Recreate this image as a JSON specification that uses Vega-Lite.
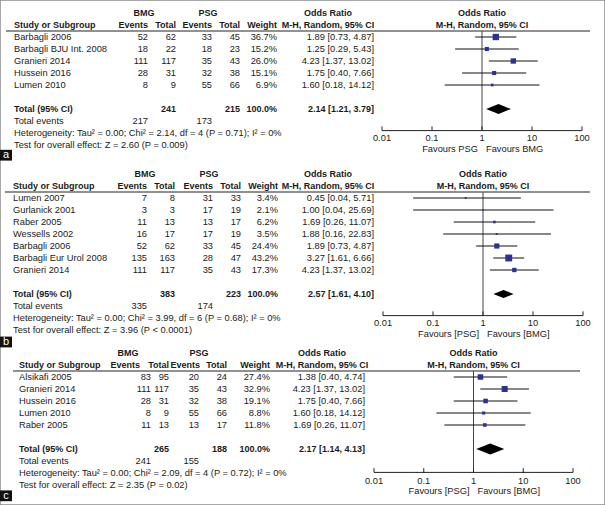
{
"$schema": "https://vega.github.io/schema/vega-lite/v6.json",
"width": 605, "height": 505,
"autosize": {"type": "fit", "contains": "padding"},
"padding": 0,
"background": "white",
"config": {"view": {"stroke": "#8c8c8c", "strokeWidth": 1.5}, "text": {"font": "Liberation Sans", "fontSize": 9.3, "color": "#1a1a1a", "baseline": "middle"}},
"datasets": {
"rows": [
{"panel":"a","kind":"study","i":1,"study":"Barbagli 2006","be":52,"bt":62,"pe":33,"pt":45,"w":0.367,"or":1.89,"lo":0.73,"hi":4.87},
{"panel":"a","kind":"study","i":2,"study":"Barbagli BJU Int. 2008","be":18,"bt":22,"pe":18,"pt":23,"w":0.152,"or":1.25,"lo":0.29,"hi":5.43},
{"panel":"a","kind":"study","i":3,"study":"Granieri 2014","be":111,"bt":117,"pe":35,"pt":43,"w":0.26,"or":4.23,"lo":1.37,"hi":13.02},
{"panel":"a","kind":"study","i":4,"study":"Hussein 2016","be":28,"bt":31,"pe":32,"pt":38,"w":0.151,"or":1.75,"lo":0.4,"hi":7.66},
{"panel":"a","kind":"study","i":5,"study":"Lumen 2010","be":8,"bt":9,"pe":55,"pt":66,"w":0.069,"or":1.6,"lo":0.18,"hi":14.12},
{"panel":"a","kind":"total","be":217,"bt":241,"pe":173,"pt":215,"w":1,"or":2.14,"lo":1.21,"hi":3.79,"het":"Heterogeneity: Tau² = 0.00; Chi² = 2.14, df = 4 (P = 0.71); I² = 0%","test":"Test for overall effect: Z = 2.60 (P = 0.009)"},
{"panel":"b","kind":"study","i":1,"study":"Lumen 2007","be":7,"bt":8,"pe":31,"pt":33,"w":0.034,"or":0.45,"lo":0.04,"hi":5.71},
{"panel":"b","kind":"study","i":2,"study":"Gurlanick 2001","be":3,"bt":3,"pe":17,"pt":19,"w":0.021,"or":1.0,"lo":0.04,"hi":25.69},
{"panel":"b","kind":"study","i":3,"study":"Raber 2005","be":11,"bt":13,"pe":13,"pt":17,"w":0.062,"or":1.69,"lo":0.26,"hi":11.07},
{"panel":"b","kind":"study","i":4,"study":"Wessells 2002","be":16,"bt":17,"pe":17,"pt":19,"w":0.035,"or":1.88,"lo":0.16,"hi":22.83},
{"panel":"b","kind":"study","i":5,"study":"Barbagli 2006","be":52,"bt":62,"pe":33,"pt":45,"w":0.244,"or":1.89,"lo":0.73,"hi":4.87},
{"panel":"b","kind":"study","i":6,"study":"Barbagli Eur Urol 2008","be":135,"bt":163,"pe":28,"pt":47,"w":0.432,"or":3.27,"lo":1.61,"hi":6.66},
{"panel":"b","kind":"study","i":7,"study":"Granieri 2014","be":111,"bt":117,"pe":35,"pt":43,"w":0.173,"or":4.23,"lo":1.37,"hi":13.02},
{"panel":"b","kind":"total","be":335,"bt":383,"pe":174,"pt":223,"w":1,"or":2.57,"lo":1.61,"hi":4.1,"het":"Heterogeneity: Tau² = 0.00; Chi² = 3.99, df = 6 (P = 0.68); I² = 0%","test":"Test for overall effect: Z = 3.96 (P < 0.0001)"},
{"panel":"c","kind":"study","i":1,"study":"Alsikafi 2005","be":83,"bt":95,"pe":20,"pt":24,"w":0.274,"or":1.38,"lo":0.4,"hi":4.74},
{"panel":"c","kind":"study","i":2,"study":"Granieri 2014","be":111,"bt":117,"pe":35,"pt":43,"w":0.329,"or":4.23,"lo":1.37,"hi":13.02},
{"panel":"c","kind":"study","i":3,"study":"Hussein 2016","be":28,"bt":31,"pe":32,"pt":38,"w":0.191,"or":1.75,"lo":0.4,"hi":7.66},
{"panel":"c","kind":"study","i":4,"study":"Lumen 2010","be":8,"bt":9,"pe":55,"pt":66,"w":0.088,"or":1.6,"lo":0.18,"hi":14.12},
{"panel":"c","kind":"study","i":5,"study":"Raber 2005","be":11,"bt":13,"pe":13,"pt":17,"w":0.118,"or":1.69,"lo":0.26,"hi":11.07},
{"panel":"c","kind":"total","be":241,"bt":265,"pe":155,"pt":188,"w":1,"or":2.17,"lo":1.14,"hi":4.13,"het":"Heterogeneity: Tau² = 0.00; Chi² = 2.09, df = 4 (P = 0.72); I² = 0%","test":"Test for overall effect: Z = 2.35 (P = 0.02)"}
],
"ticks": [{"t":0.01,"l":"0.01"},{"t":0.1,"l":"0.1"},{"t":1,"l":"1"},{"t":10,"l":"10"},{"t":100,"l":"100"}]
},
"data": {"name": "rows"},
"resolve": {"scale": {"x": "independent", "y": "independent", "size": "independent"}},
"layer": [
{
"transform": [{"filter": "datum.panel === 'a'"}, {"calculate": "format(datum.or,'.2f')+' ['+format(datum.lo,'.2f')+', '+format(datum.hi,'.2f')+']'", "as": "ci"}, {"calculate": "log(datum.hi/datum.lo)/LN10", "as": "lw"}],
"resolve": {"scale": {"size": "independent"}},
"layer": [
{"data":{"values":[{"panel":"a"}]},"mark":{"type":"text","text":"BMG","fontWeight":"bold","fontSize":9},"encoding":{"x":{"value":144},"y":{"datum":-1,"type":"quantitative","scale":{"domain":[-1,11],"range":[13,157],"nice":false,"zero":false},"axis":null}}},
{"data":{"values":[{"panel":"a"}]},"mark":{"type":"text","text":"PSG","fontWeight":"bold","fontSize":9},"encoding":{"x":{"value":208},"y":{"datum":-1,"type":"quantitative","scale":{"domain":[-1,11],"range":[13,157],"nice":false,"zero":false},"axis":null}}},
{"data":{"values":[{"panel":"a"}]},"mark":{"type":"text","text":"Odds Ratio","fontWeight":"bold","fontSize":9},"encoding":{"x":{"value":328},"y":{"datum":-1,"type":"quantitative","scale":{"domain":[-1,11],"range":[13,157],"nice":false,"zero":false},"axis":null}}},
{"data":{"values":[{"panel":"a"}]},"mark":{"type":"text","text":"M-H, Random, 95% CI","fontWeight":"bold","fontSize":9},"encoding":{"x":{"value":328},"y":{"datum":0,"type":"quantitative","scale":{"domain":[-1,11],"range":[13,157],"nice":false,"zero":false},"axis":null}}},
{"data":{"values":[{"panel":"a"}]},"mark":{"type":"text","text":"Odds Ratio","fontWeight":"bold","fontSize":9},"encoding":{"x":{"datum":1,"type":"quantitative","scale":{"type":"log","domain":[0.01,100],"range":[382,582],"nice":false},"axis":null},"y":{"datum":-1,"type":"quantitative","scale":{"domain":[-1,11],"range":[13,157],"nice":false,"zero":false},"axis":null}}},
{"data":{"values":[{"panel":"a"}]},"mark":{"type":"text","text":"M-H, Random, 95% CI","fontWeight":"bold","fontSize":9},"encoding":{"x":{"datum":1,"type":"quantitative","scale":{"type":"log","domain":[0.01,100],"range":[382,582],"nice":false},"axis":null},"y":{"datum":0,"type":"quantitative","scale":{"domain":[-1,11],"range":[13,157],"nice":false,"zero":false},"axis":null}}},
{"data":{"values":[{"panel":"a"}]},"mark":{"type":"text","text":"Study or Subgroup","align":"left","fontWeight":"bold","fontSize":9},"encoding":{"x":{"value":14},"y":{"datum":0,"type":"quantitative","scale":{"domain":[-1,11],"range":[13,157],"nice":false,"zero":false},"axis":null}}},
{"data":{"values":[{"panel":"a"}]},"mark":{"type":"text","text":"Events","align":"right","fontWeight":"bold","fontSize":9},"encoding":{"x":{"value":148},"y":{"datum":0,"type":"quantitative","scale":{"domain":[-1,11],"range":[13,157],"nice":false,"zero":false},"axis":null}}},
{"data":{"values":[{"panel":"a"}]},"mark":{"type":"text","text":"Total","align":"right","fontWeight":"bold","fontSize":9},"encoding":{"x":{"value":176},"y":{"datum":0,"type":"quantitative","scale":{"domain":[-1,11],"range":[13,157],"nice":false,"zero":false},"axis":null}}},
{"data":{"values":[{"panel":"a"}]},"mark":{"type":"text","text":"Events","align":"right","fontWeight":"bold","fontSize":9},"encoding":{"x":{"value":212},"y":{"datum":0,"type":"quantitative","scale":{"domain":[-1,11],"range":[13,157],"nice":false,"zero":false},"axis":null}}},
{"data":{"values":[{"panel":"a"}]},"mark":{"type":"text","text":"Total","align":"right","fontWeight":"bold","fontSize":9},"encoding":{"x":{"value":240},"y":{"datum":0,"type":"quantitative","scale":{"domain":[-1,11],"range":[13,157],"nice":false,"zero":false},"axis":null}}},
{"data":{"values":[{"panel":"a"}]},"mark":{"type":"text","text":"Weight","align":"right","fontWeight":"bold","fontSize":9},"encoding":{"x":{"value":277},"y":{"datum":0,"type":"quantitative","scale":{"domain":[-1,11],"range":[13,157],"nice":false,"zero":false},"axis":null}}},
{"data":{"values":[{"panel":"a"}]},"mark":{"type":"rule","color":"#222","strokeWidth":1},"encoding":{"x":{"value":6},"x2":{"value":590},"y":{"datum":0.5,"type":"quantitative","scale":{"domain":[-1,11],"range":[13,157],"nice":false,"zero":false},"axis":null}}},
{"data":{"values":[{"panel":"a"}]},"mark":{"type":"rule","color":"#444","strokeWidth":1},"encoding":{"x":{"datum":1,"type":"quantitative","scale":{"type":"log","domain":[0.01,100],"range":[382,582],"nice":false},"axis":null},"y":{"datum":0.5,"type":"quantitative","scale":{"domain":[-1,11],"range":[13,157],"nice":false,"zero":false},"axis":null},"y2":{"datum":8.8}}},
{"data":{"values":[{"panel":"a"}]},"mark":{"type":"rule","color":"#222","strokeWidth":1},"encoding":{"x":{"datum":0.01,"type":"quantitative","scale":{"type":"log","domain":[0.01,100],"range":[382,582],"nice":false},"axis":null},"x2":{"datum":100},"y":{"datum":8.8,"type":"quantitative","scale":{"domain":[-1,11],"range":[13,157],"nice":false,"zero":false},"axis":null}}},
{"data":{"name":"ticks"},"mark":{"type":"rule","color":"#222","strokeWidth":1},"encoding":{"x":{"field":"t","type":"quantitative","scale":{"type":"log","domain":[0.01,100],"range":[382,582],"nice":false},"axis":null},"y":{"datum":8.45,"type":"quantitative","scale":{"domain":[-1,11],"range":[13,157],"nice":false,"zero":false},"axis":null},"y2":{"datum":8.8}}},
{"data":{"name":"ticks"},"mark":{"type":"text"},"encoding":{"x":{"field":"t","type":"quantitative","scale":{"type":"log","domain":[0.01,100],"range":[382,582],"nice":false},"axis":null},"y":{"datum":9.45,"type":"quantitative","scale":{"domain":[-1,11],"range":[13,157],"nice":false,"zero":false},"axis":null},"text":{"field":"l","type":"nominal"}}},
{"data":{"values":[{"panel":"a"}]},"mark":{"type":"text","text":"Favours PSG","align":"right","dx":-4},"encoding":{"x":{"datum":1,"type":"quantitative","scale":{"type":"log","domain":[0.01,100],"range":[382,582],"nice":false},"axis":null},"y":{"datum":10.35,"type":"quantitative","scale":{"domain":[-1,11],"range":[13,157],"nice":false,"zero":false},"axis":null}}},
{"data":{"values":[{"panel":"a"}]},"mark":{"type":"text","text":"Favours BMG","align":"left","dx":4},"encoding":{"x":{"datum":1,"type":"quantitative","scale":{"type":"log","domain":[0.01,100],"range":[382,582],"nice":false},"axis":null},"y":{"datum":10.35,"type":"quantitative","scale":{"domain":[-1,11],"range":[13,157],"nice":false,"zero":false},"axis":null}}},
{"data":{"values":[{"panel":"a"}]},"mark":{"type":"rect","color":"#111"},"encoding":{"x":{"value":0},"x2":{"value":12},"y":{"datum":10.4,"type":"quantitative","scale":{"domain":[-1,11],"range":[13,157],"nice":false,"zero":false},"axis":null},"y2":{"datum":11.3}}},
{"data":{"values":[{"panel":"a"}]},"mark":{"type":"text","text":"a","color":"white","fontSize":11},"encoding":{"x":{"value":6},"y":{"datum":10.85,"type":"quantitative","scale":{"domain":[-1,11],"range":[13,157],"nice":false,"zero":false},"axis":null}}},
{"transform":[{"filter":"datum.kind === 'study'"}],"layer":[
{"mark":{"type":"text","align":"left"},"encoding":{"x":{"value":14},"y":{"field":"i","type":"quantitative","scale":{"domain":[-1,11],"range":[13,157],"nice":false,"zero":false},"axis":null},"text":{"field":"study","type":"nominal"}}},
{"mark":{"type":"text","align":"right"},"encoding":{"x":{"value":148},"y":{"field":"i","type":"quantitative","scale":{"domain":[-1,11],"range":[13,157],"nice":false,"zero":false},"axis":null},"text":{"field":"be","type":"nominal"}}},
{"mark":{"type":"text","align":"right"},"encoding":{"x":{"value":176},"y":{"field":"i","type":"quantitative","scale":{"domain":[-1,11],"range":[13,157],"nice":false,"zero":false},"axis":null},"text":{"field":"bt","type":"nominal"}}},
{"mark":{"type":"text","align":"right"},"encoding":{"x":{"value":212},"y":{"field":"i","type":"quantitative","scale":{"domain":[-1,11],"range":[13,157],"nice":false,"zero":false},"axis":null},"text":{"field":"pe","type":"nominal"}}},
{"mark":{"type":"text","align":"right"},"encoding":{"x":{"value":240},"y":{"field":"i","type":"quantitative","scale":{"domain":[-1,11],"range":[13,157],"nice":false,"zero":false},"axis":null},"text":{"field":"pt","type":"nominal"}}},
{"mark":{"type":"text","align":"right"},"encoding":{"x":{"value":277},"y":{"field":"i","type":"quantitative","scale":{"domain":[-1,11],"range":[13,157],"nice":false,"zero":false},"axis":null},"text":{"field":"w","type":"quantitative","format":".1%"}}},
{"mark":{"type":"text","align":"right"},"encoding":{"x":{"value":374},"y":{"field":"i","type":"quantitative","scale":{"domain":[-1,11],"range":[13,157],"nice":false,"zero":false},"axis":null},"text":{"field":"ci","type":"nominal"}}},
{"mark":{"type":"rule","color":"#111","strokeWidth":1},"encoding":{"x":{"field":"lo","type":"quantitative","scale":{"type":"log","domain":[0.01,100],"range":[382,582],"nice":false},"axis":null},"x2":{"field":"hi"},"y":{"field":"i","type":"quantitative","scale":{"domain":[-1,11],"range":[13,157],"nice":false,"zero":false},"axis":null}}},
{"mark":{"type":"point","shape":"square","filled":true,"color":"#2e3192","opacity":1},"encoding":{"x":{"field":"or","type":"quantitative","scale":{"type":"log","domain":[0.01,100],"range":[382,582],"nice":false},"axis":null},"y":{"field":"i","type":"quantitative","scale":{"domain":[-1,11],"range":[13,157],"nice":false,"zero":false},"axis":null},"size":{"field":"w","type":"quantitative","scale":{"domain":[0,0.5],"range":[0,55]},"legend":null}}}
]},
{"transform":[{"filter":"datum.kind === 'total'"}],"layer":[
{"mark":{"type":"text","align":"left","text":"Total (95% CI)","fontWeight":"bold","fontSize":9},"encoding":{"x":{"value":14},"y":{"datum":7,"type":"quantitative","scale":{"domain":[-1,11],"range":[13,157],"nice":false,"zero":false},"axis":null}}},
{"mark":{"type":"text","align":"right","fontWeight":"bold","fontSize":9},"encoding":{"x":{"value":176},"y":{"datum":7,"type":"quantitative","scale":{"domain":[-1,11],"range":[13,157],"nice":false,"zero":false},"axis":null},"text":{"field":"bt","type":"nominal"}}},
{"mark":{"type":"text","align":"right","fontWeight":"bold","fontSize":9},"encoding":{"x":{"value":240},"y":{"datum":7,"type":"quantitative","scale":{"domain":[-1,11],"range":[13,157],"nice":false,"zero":false},"axis":null},"text":{"field":"pt","type":"nominal"}}},
{"mark":{"type":"text","align":"right","fontWeight":"bold","fontSize":9},"encoding":{"x":{"value":277},"y":{"datum":7,"type":"quantitative","scale":{"domain":[-1,11],"range":[13,157],"nice":false,"zero":false},"axis":null},"text":{"field":"w","type":"quantitative","format":".1%"}}},
{"mark":{"type":"text","align":"right","fontWeight":"bold","fontSize":9},"encoding":{"x":{"value":374},"y":{"datum":7,"type":"quantitative","scale":{"domain":[-1,11],"range":[13,157],"nice":false,"zero":false},"axis":null},"text":{"field":"ci","type":"nominal"}}},
{"mark":{"type":"text","align":"left","text":"Total events"},"encoding":{"x":{"value":14},"y":{"datum":8,"type":"quantitative","scale":{"domain":[-1,11],"range":[13,157],"nice":false,"zero":false},"axis":null}}},
{"mark":{"type":"text","align":"right"},"encoding":{"x":{"value":148},"y":{"datum":8,"type":"quantitative","scale":{"domain":[-1,11],"range":[13,157],"nice":false,"zero":false},"axis":null},"text":{"field":"be","type":"nominal"}}},
{"mark":{"type":"text","align":"right"},"encoding":{"x":{"value":212},"y":{"datum":8,"type":"quantitative","scale":{"domain":[-1,11],"range":[13,157],"nice":false,"zero":false},"axis":null},"text":{"field":"pe","type":"nominal"}}},
{"mark":{"type":"text","align":"left"},"encoding":{"x":{"value":14},"y":{"datum":9,"type":"quantitative","scale":{"domain":[-1,11],"range":[13,157],"nice":false,"zero":false},"axis":null},"text":{"field":"het","type":"nominal"}}},
{"mark":{"type":"text","align":"left"},"encoding":{"x":{"value":14},"y":{"datum":10,"type":"quantitative","scale":{"domain":[-1,11],"range":[13,157],"nice":false,"zero":false},"axis":null},"text":{"field":"test","type":"nominal"}}},
{"mark":{"type":"point","shape":"M-1,0L0,-0.4L1,0L0,0.4Z","filled":true,"color":"#000","opacity":1},"encoding":{"x":{"field":"or","type":"quantitative","scale":{"type":"log","domain":[0.01,100],"range":[382,582],"nice":false},"axis":null},"y":{"datum":7,"type":"quantitative","scale":{"domain":[-1,11],"range":[13,157],"nice":false,"zero":false},"axis":null},"size":{"field":"lw","type":"quantitative","scale":{"type":"pow","exponent":2,"domain":[0,1],"range":[0,2500]},"legend":null}}}
]}
]
},
{
"transform": [{"filter": "datum.panel === 'b'"}, {"calculate": "format(datum.or,'.2f')+' ['+format(datum.lo,'.2f')+', '+format(datum.hi,'.2f')+']'", "as": "ci"}, {"calculate": "log(datum.hi/datum.lo)/LN10", "as": "lw"}],
"resolve": {"scale": {"size": "independent"}},
"layer": [
{"data":{"values":[{"panel":"b"}]},"mark":{"type":"text","text":"BMG","fontWeight":"bold","fontSize":9},"encoding":{"x":{"value":145},"y":{"datum":-1,"type":"quantitative","scale":{"domain":[-1,13],"range":[174,342],"nice":false,"zero":false},"axis":null}}},
{"data":{"values":[{"panel":"b"}]},"mark":{"type":"text","text":"PSG","fontWeight":"bold","fontSize":9},"encoding":{"x":{"value":209},"y":{"datum":-1,"type":"quantitative","scale":{"domain":[-1,13],"range":[174,342],"nice":false,"zero":false},"axis":null}}},
{"data":{"values":[{"panel":"b"}]},"mark":{"type":"text","text":"Odds Ratio","fontWeight":"bold","fontSize":9},"encoding":{"x":{"value":328},"y":{"datum":-1,"type":"quantitative","scale":{"domain":[-1,13],"range":[174,342],"nice":false,"zero":false},"axis":null}}},
{"data":{"values":[{"panel":"b"}]},"mark":{"type":"text","text":"M-H, Random, 95% CI","fontWeight":"bold","fontSize":9},"encoding":{"x":{"value":328},"y":{"datum":0,"type":"quantitative","scale":{"domain":[-1,13],"range":[174,342],"nice":false,"zero":false},"axis":null}}},
{"data":{"values":[{"panel":"b"}]},"mark":{"type":"text","text":"Odds Ratio","fontWeight":"bold","fontSize":9},"encoding":{"x":{"datum":1,"type":"quantitative","scale":{"type":"log","domain":[0.01,100],"range":[383,583],"nice":false},"axis":null},"y":{"datum":-1,"type":"quantitative","scale":{"domain":[-1,13],"range":[174,342],"nice":false,"zero":false},"axis":null}}},
{"data":{"values":[{"panel":"b"}]},"mark":{"type":"text","text":"M-H, Random, 95% CI","fontWeight":"bold","fontSize":9},"encoding":{"x":{"datum":1,"type":"quantitative","scale":{"type":"log","domain":[0.01,100],"range":[383,583],"nice":false},"axis":null},"y":{"datum":0,"type":"quantitative","scale":{"domain":[-1,13],"range":[174,342],"nice":false,"zero":false},"axis":null}}},
{"data":{"values":[{"panel":"b"}]},"mark":{"type":"text","text":"Study or Subgroup","align":"left","fontWeight":"bold","fontSize":9},"encoding":{"x":{"value":13},"y":{"datum":0,"type":"quantitative","scale":{"domain":[-1,13],"range":[174,342],"nice":false,"zero":false},"axis":null}}},
{"data":{"values":[{"panel":"b"}]},"mark":{"type":"text","text":"Events","align":"right","fontWeight":"bold","fontSize":9},"encoding":{"x":{"value":147},"y":{"datum":0,"type":"quantitative","scale":{"domain":[-1,13],"range":[174,342],"nice":false,"zero":false},"axis":null}}},
{"data":{"values":[{"panel":"b"}]},"mark":{"type":"text","text":"Total","align":"right","fontWeight":"bold","fontSize":9},"encoding":{"x":{"value":175},"y":{"datum":0,"type":"quantitative","scale":{"domain":[-1,13],"range":[174,342],"nice":false,"zero":false},"axis":null}}},
{"data":{"values":[{"panel":"b"}]},"mark":{"type":"text","text":"Events","align":"right","fontWeight":"bold","fontSize":9},"encoding":{"x":{"value":213},"y":{"datum":0,"type":"quantitative","scale":{"domain":[-1,13],"range":[174,342],"nice":false,"zero":false},"axis":null}}},
{"data":{"values":[{"panel":"b"}]},"mark":{"type":"text","text":"Total","align":"right","fontWeight":"bold","fontSize":9},"encoding":{"x":{"value":241},"y":{"datum":0,"type":"quantitative","scale":{"domain":[-1,13],"range":[174,342],"nice":false,"zero":false},"axis":null}}},
{"data":{"values":[{"panel":"b"}]},"mark":{"type":"text","text":"Weight","align":"right","fontWeight":"bold","fontSize":9},"encoding":{"x":{"value":278},"y":{"datum":0,"type":"quantitative","scale":{"domain":[-1,13],"range":[174,342],"nice":false,"zero":false},"axis":null}}},
{"data":{"values":[{"panel":"b"}]},"mark":{"type":"rule","color":"#222","strokeWidth":1},"encoding":{"x":{"value":5},"x2":{"value":590},"y":{"datum":0.5,"type":"quantitative","scale":{"domain":[-1,13],"range":[174,342],"nice":false,"zero":false},"axis":null}}},
{"data":{"values":[{"panel":"b"}]},"mark":{"type":"rule","color":"#444","strokeWidth":1},"encoding":{"x":{"datum":1,"type":"quantitative","scale":{"type":"log","domain":[0.01,100],"range":[383,583],"nice":false},"axis":null},"y":{"datum":0.5,"type":"quantitative","scale":{"domain":[-1,13],"range":[174,342],"nice":false,"zero":false},"axis":null},"y2":{"datum":10.8}}},
{"data":{"values":[{"panel":"b"}]},"mark":{"type":"rule","color":"#222","strokeWidth":1},"encoding":{"x":{"datum":0.01,"type":"quantitative","scale":{"type":"log","domain":[0.01,100],"range":[383,583],"nice":false},"axis":null},"x2":{"datum":100},"y":{"datum":10.8,"type":"quantitative","scale":{"domain":[-1,13],"range":[174,342],"nice":false,"zero":false},"axis":null}}},
{"data":{"name":"ticks"},"mark":{"type":"rule","color":"#222","strokeWidth":1},"encoding":{"x":{"field":"t","type":"quantitative","scale":{"type":"log","domain":[0.01,100],"range":[383,583],"nice":false},"axis":null},"y":{"datum":10.45,"type":"quantitative","scale":{"domain":[-1,13],"range":[174,342],"nice":false,"zero":false},"axis":null},"y2":{"datum":10.8}}},
{"data":{"name":"ticks"},"mark":{"type":"text"},"encoding":{"x":{"field":"t","type":"quantitative","scale":{"type":"log","domain":[0.01,100],"range":[383,583],"nice":false},"axis":null},"y":{"datum":11.45,"type":"quantitative","scale":{"domain":[-1,13],"range":[174,342],"nice":false,"zero":false},"axis":null},"text":{"field":"l","type":"nominal"}}},
{"data":{"values":[{"panel":"b"}]},"mark":{"type":"text","text":"Favours [PSG]","align":"right","dx":-4},"encoding":{"x":{"datum":1,"type":"quantitative","scale":{"type":"log","domain":[0.01,100],"range":[383,583],"nice":false},"axis":null},"y":{"datum":12.35,"type":"quantitative","scale":{"domain":[-1,13],"range":[174,342],"nice":false,"zero":false},"axis":null}}},
{"data":{"values":[{"panel":"b"}]},"mark":{"type":"text","text":"Favours [BMG]","align":"left","dx":4},"encoding":{"x":{"datum":1,"type":"quantitative","scale":{"type":"log","domain":[0.01,100],"range":[383,583],"nice":false},"axis":null},"y":{"datum":12.35,"type":"quantitative","scale":{"domain":[-1,13],"range":[174,342],"nice":false,"zero":false},"axis":null}}},
{"data":{"values":[{"panel":"b"}]},"mark":{"type":"rect","color":"#111"},"encoding":{"x":{"value":0},"x2":{"value":12},"y":{"datum":12.55,"type":"quantitative","scale":{"domain":[-1,13],"range":[174,342],"nice":false,"zero":false},"axis":null},"y2":{"datum":13.45}}},
{"data":{"values":[{"panel":"b"}]},"mark":{"type":"text","text":"b","color":"white","fontSize":11},"encoding":{"x":{"value":6},"y":{"datum":13.0,"type":"quantitative","scale":{"domain":[-1,13],"range":[174,342],"nice":false,"zero":false},"axis":null}}},
{"transform":[{"filter":"datum.kind === 'study'"}],"layer":[
{"mark":{"type":"text","align":"left"},"encoding":{"x":{"value":13},"y":{"field":"i","type":"quantitative","scale":{"domain":[-1,13],"range":[174,342],"nice":false,"zero":false},"axis":null},"text":{"field":"study","type":"nominal"}}},
{"mark":{"type":"text","align":"right"},"encoding":{"x":{"value":147},"y":{"field":"i","type":"quantitative","scale":{"domain":[-1,13],"range":[174,342],"nice":false,"zero":false},"axis":null},"text":{"field":"be","type":"nominal"}}},
{"mark":{"type":"text","align":"right"},"encoding":{"x":{"value":175},"y":{"field":"i","type":"quantitative","scale":{"domain":[-1,13],"range":[174,342],"nice":false,"zero":false},"axis":null},"text":{"field":"bt","type":"nominal"}}},
{"mark":{"type":"text","align":"right"},"encoding":{"x":{"value":213},"y":{"field":"i","type":"quantitative","scale":{"domain":[-1,13],"range":[174,342],"nice":false,"zero":false},"axis":null},"text":{"field":"pe","type":"nominal"}}},
{"mark":{"type":"text","align":"right"},"encoding":{"x":{"value":241},"y":{"field":"i","type":"quantitative","scale":{"domain":[-1,13],"range":[174,342],"nice":false,"zero":false},"axis":null},"text":{"field":"pt","type":"nominal"}}},
{"mark":{"type":"text","align":"right"},"encoding":{"x":{"value":278},"y":{"field":"i","type":"quantitative","scale":{"domain":[-1,13],"range":[174,342],"nice":false,"zero":false},"axis":null},"text":{"field":"w","type":"quantitative","format":".1%"}}},
{"mark":{"type":"text","align":"right"},"encoding":{"x":{"value":374},"y":{"field":"i","type":"quantitative","scale":{"domain":[-1,13],"range":[174,342],"nice":false,"zero":false},"axis":null},"text":{"field":"ci","type":"nominal"}}},
{"mark":{"type":"rule","color":"#111","strokeWidth":1},"encoding":{"x":{"field":"lo","type":"quantitative","scale":{"type":"log","domain":[0.01,100],"range":[383,583],"nice":false},"axis":null},"x2":{"field":"hi"},"y":{"field":"i","type":"quantitative","scale":{"domain":[-1,13],"range":[174,342],"nice":false,"zero":false},"axis":null}}},
{"mark":{"type":"point","shape":"square","filled":true,"color":"#2e3192","opacity":1},"encoding":{"x":{"field":"or","type":"quantitative","scale":{"type":"log","domain":[0.01,100],"range":[383,583],"nice":false},"axis":null},"y":{"field":"i","type":"quantitative","scale":{"domain":[-1,13],"range":[174,342],"nice":false,"zero":false},"axis":null},"size":{"field":"w","type":"quantitative","scale":{"domain":[0,0.5],"range":[0,55]},"legend":null}}}
]},
{"transform":[{"filter":"datum.kind === 'total'"}],"layer":[
{"mark":{"type":"text","align":"left","text":"Total (95% CI)","fontWeight":"bold","fontSize":9},"encoding":{"x":{"value":13},"y":{"datum":9,"type":"quantitative","scale":{"domain":[-1,13],"range":[174,342],"nice":false,"zero":false},"axis":null}}},
{"mark":{"type":"text","align":"right","fontWeight":"bold","fontSize":9},"encoding":{"x":{"value":175},"y":{"datum":9,"type":"quantitative","scale":{"domain":[-1,13],"range":[174,342],"nice":false,"zero":false},"axis":null},"text":{"field":"bt","type":"nominal"}}},
{"mark":{"type":"text","align":"right","fontWeight":"bold","fontSize":9},"encoding":{"x":{"value":241},"y":{"datum":9,"type":"quantitative","scale":{"domain":[-1,13],"range":[174,342],"nice":false,"zero":false},"axis":null},"text":{"field":"pt","type":"nominal"}}},
{"mark":{"type":"text","align":"right","fontWeight":"bold","fontSize":9},"encoding":{"x":{"value":278},"y":{"datum":9,"type":"quantitative","scale":{"domain":[-1,13],"range":[174,342],"nice":false,"zero":false},"axis":null},"text":{"field":"w","type":"quantitative","format":".1%"}}},
{"mark":{"type":"text","align":"right","fontWeight":"bold","fontSize":9},"encoding":{"x":{"value":374},"y":{"datum":9,"type":"quantitative","scale":{"domain":[-1,13],"range":[174,342],"nice":false,"zero":false},"axis":null},"text":{"field":"ci","type":"nominal"}}},
{"mark":{"type":"text","align":"left","text":"Total events"},"encoding":{"x":{"value":13},"y":{"datum":10,"type":"quantitative","scale":{"domain":[-1,13],"range":[174,342],"nice":false,"zero":false},"axis":null}}},
{"mark":{"type":"text","align":"right"},"encoding":{"x":{"value":147},"y":{"datum":10,"type":"quantitative","scale":{"domain":[-1,13],"range":[174,342],"nice":false,"zero":false},"axis":null},"text":{"field":"be","type":"nominal"}}},
{"mark":{"type":"text","align":"right"},"encoding":{"x":{"value":213},"y":{"datum":10,"type":"quantitative","scale":{"domain":[-1,13],"range":[174,342],"nice":false,"zero":false},"axis":null},"text":{"field":"pe","type":"nominal"}}},
{"mark":{"type":"text","align":"left"},"encoding":{"x":{"value":13},"y":{"datum":11,"type":"quantitative","scale":{"domain":[-1,13],"range":[174,342],"nice":false,"zero":false},"axis":null},"text":{"field":"het","type":"nominal"}}},
{"mark":{"type":"text","align":"left"},"encoding":{"x":{"value":13},"y":{"datum":12,"type":"quantitative","scale":{"domain":[-1,13],"range":[174,342],"nice":false,"zero":false},"axis":null},"text":{"field":"test","type":"nominal"}}},
{"mark":{"type":"point","shape":"M-1,0L0,-0.4L1,0L0,0.4Z","filled":true,"color":"#000","opacity":1},"encoding":{"x":{"field":"or","type":"quantitative","scale":{"type":"log","domain":[0.01,100],"range":[383,583],"nice":false},"axis":null},"y":{"datum":9,"type":"quantitative","scale":{"domain":[-1,13],"range":[174,342],"nice":false,"zero":false},"axis":null},"size":{"field":"lw","type":"quantitative","scale":{"type":"pow","exponent":2,"domain":[0,1],"range":[0,2500]},"legend":null}}}
]}
]
},
{
"transform": [{"filter": "datum.panel === 'c'"}, {"calculate": "format(datum.or,'.2f')+' ['+format(datum.lo,'.2f')+', '+format(datum.hi,'.2f')+']'", "as": "ci"}, {"calculate": "log(datum.hi/datum.lo)/LN10", "as": "lw"}],
"resolve": {"scale": {"size": "independent"}},
"layer": [
{"data":{"values":[{"panel":"c"}]},"mark":{"type":"text","text":"BMG","fontWeight":"bold","fontSize":9},"encoding":{"x":{"value":128},"y":{"datum":-1,"type":"quantitative","scale":{"domain":[-1,11],"range":[353,497],"nice":false,"zero":false},"axis":null}}},
{"data":{"values":[{"panel":"c"}]},"mark":{"type":"text","text":"PSG","fontWeight":"bold","fontSize":9},"encoding":{"x":{"value":199},"y":{"datum":-1,"type":"quantitative","scale":{"domain":[-1,11],"range":[353,497],"nice":false,"zero":false},"axis":null}}},
{"data":{"values":[{"panel":"c"}]},"mark":{"type":"text","text":"Odds Ratio","fontWeight":"bold","fontSize":9},"encoding":{"x":{"value":322},"y":{"datum":-1,"type":"quantitative","scale":{"domain":[-1,11],"range":[353,497],"nice":false,"zero":false},"axis":null}}},
{"data":{"values":[{"panel":"c"}]},"mark":{"type":"text","text":"M-H, Random, 95% CI","fontWeight":"bold","fontSize":9},"encoding":{"x":{"value":322},"y":{"datum":0,"type":"quantitative","scale":{"domain":[-1,11],"range":[353,497],"nice":false,"zero":false},"axis":null}}},
{"data":{"values":[{"panel":"c"}]},"mark":{"type":"text","text":"Odds Ratio","fontWeight":"bold","fontSize":9},"encoding":{"x":{"datum":1,"type":"quantitative","scale":{"type":"log","domain":[0.01,100],"range":[374,573],"nice":false},"axis":null},"y":{"datum":-1,"type":"quantitative","scale":{"domain":[-1,11],"range":[353,497],"nice":false,"zero":false},"axis":null}}},
{"data":{"values":[{"panel":"c"}]},"mark":{"type":"text","text":"M-H, Random, 95% CI","fontWeight":"bold","fontSize":9},"encoding":{"x":{"datum":1,"type":"quantitative","scale":{"type":"log","domain":[0.01,100],"range":[374,573],"nice":false},"axis":null},"y":{"datum":0,"type":"quantitative","scale":{"domain":[-1,11],"range":[353,497],"nice":false,"zero":false},"axis":null}}},
{"data":{"values":[{"panel":"c"}]},"mark":{"type":"text","text":"Study or Subgroup","align":"left","fontWeight":"bold","fontSize":9},"encoding":{"x":{"value":19},"y":{"datum":0,"type":"quantitative","scale":{"domain":[-1,11],"range":[353,497],"nice":false,"zero":false},"axis":null}}},
{"data":{"values":[{"panel":"c"}]},"mark":{"type":"text","text":"Events","align":"right","fontWeight":"bold","fontSize":9},"encoding":{"x":{"value":140},"y":{"datum":0,"type":"quantitative","scale":{"domain":[-1,11],"range":[353,497],"nice":false,"zero":false},"axis":null}}},
{"data":{"values":[{"panel":"c"}]},"mark":{"type":"text","text":"Total","align":"right","fontWeight":"bold","fontSize":9},"encoding":{"x":{"value":169},"y":{"datum":0,"type":"quantitative","scale":{"domain":[-1,11],"range":[353,497],"nice":false,"zero":false},"axis":null}}},
{"data":{"values":[{"panel":"c"}]},"mark":{"type":"text","text":"Events","align":"right","fontWeight":"bold","fontSize":9},"encoding":{"x":{"value":200},"y":{"datum":0,"type":"quantitative","scale":{"domain":[-1,11],"range":[353,497],"nice":false,"zero":false},"axis":null}}},
{"data":{"values":[{"panel":"c"}]},"mark":{"type":"text","text":"Total","align":"right","fontWeight":"bold","fontSize":9},"encoding":{"x":{"value":227},"y":{"datum":0,"type":"quantitative","scale":{"domain":[-1,11],"range":[353,497],"nice":false,"zero":false},"axis":null}}},
{"data":{"values":[{"panel":"c"}]},"mark":{"type":"text","text":"Weight","align":"right","fontWeight":"bold","fontSize":9},"encoding":{"x":{"value":270},"y":{"datum":0,"type":"quantitative","scale":{"domain":[-1,11],"range":[353,497],"nice":false,"zero":false},"axis":null}}},
{"data":{"values":[{"panel":"c"}]},"mark":{"type":"rule","color":"#222","strokeWidth":1},"encoding":{"x":{"value":13},"x2":{"value":580},"y":{"datum":0.5,"type":"quantitative","scale":{"domain":[-1,11],"range":[353,497],"nice":false,"zero":false},"axis":null}}},
{"data":{"values":[{"panel":"c"}]},"mark":{"type":"rule","color":"#444","strokeWidth":1},"encoding":{"x":{"datum":1,"type":"quantitative","scale":{"type":"log","domain":[0.01,100],"range":[374,573],"nice":false},"axis":null},"y":{"datum":0.5,"type":"quantitative","scale":{"domain":[-1,11],"range":[353,497],"nice":false,"zero":false},"axis":null},"y2":{"datum":8.95}}},
{"data":{"values":[{"panel":"c"}]},"mark":{"type":"rule","color":"#222","strokeWidth":1},"encoding":{"x":{"datum":0.01,"type":"quantitative","scale":{"type":"log","domain":[0.01,100],"range":[374,573],"nice":false},"axis":null},"x2":{"datum":100},"y":{"datum":8.95,"type":"quantitative","scale":{"domain":[-1,11],"range":[353,497],"nice":false,"zero":false},"axis":null}}},
{"data":{"name":"ticks"},"mark":{"type":"rule","color":"#222","strokeWidth":1},"encoding":{"x":{"field":"t","type":"quantitative","scale":{"type":"log","domain":[0.01,100],"range":[374,573],"nice":false},"axis":null},"y":{"datum":8.6,"type":"quantitative","scale":{"domain":[-1,11],"range":[353,497],"nice":false,"zero":false},"axis":null},"y2":{"datum":8.95}}},
{"data":{"name":"ticks"},"mark":{"type":"text"},"encoding":{"x":{"field":"t","type":"quantitative","scale":{"type":"log","domain":[0.01,100],"range":[374,573],"nice":false},"axis":null},"y":{"datum":9.65,"type":"quantitative","scale":{"domain":[-1,11],"range":[353,497],"nice":false,"zero":false},"axis":null},"text":{"field":"l","type":"nominal"}}},
{"data":{"values":[{"panel":"c"}]},"mark":{"type":"text","text":"Favours [PSG]","align":"right","dx":-4},"encoding":{"x":{"datum":1,"type":"quantitative","scale":{"type":"log","domain":[0.01,100],"range":[374,573],"nice":false},"axis":null},"y":{"datum":10.5,"type":"quantitative","scale":{"domain":[-1,11],"range":[353,497],"nice":false,"zero":false},"axis":null}}},
{"data":{"values":[{"panel":"c"}]},"mark":{"type":"text","text":"Favours [BMG]","align":"left","dx":4},"encoding":{"x":{"datum":1,"type":"quantitative","scale":{"type":"log","domain":[0.01,100],"range":[374,573],"nice":false},"axis":null},"y":{"datum":10.5,"type":"quantitative","scale":{"domain":[-1,11],"range":[353,497],"nice":false,"zero":false},"axis":null}}},
{"data":{"values":[{"panel":"c"}]},"mark":{"type":"rect","color":"#111"},"encoding":{"x":{"value":0},"x2":{"value":12},"y":{"datum":10.45,"type":"quantitative","scale":{"domain":[-1,11],"range":[353,497],"nice":false,"zero":false},"axis":null},"y2":{"datum":11.35}}},
{"data":{"values":[{"panel":"c"}]},"mark":{"type":"text","text":"c","color":"white","fontSize":11},"encoding":{"x":{"value":6},"y":{"datum":10.9,"type":"quantitative","scale":{"domain":[-1,11],"range":[353,497],"nice":false,"zero":false},"axis":null}}},
{"transform":[{"filter":"datum.kind === 'study'"}],"layer":[
{"mark":{"type":"text","align":"left"},"encoding":{"x":{"value":19},"y":{"field":"i","type":"quantitative","scale":{"domain":[-1,11],"range":[353,497],"nice":false,"zero":false},"axis":null},"text":{"field":"study","type":"nominal"}}},
{"mark":{"type":"text","align":"right"},"encoding":{"x":{"value":151},"y":{"field":"i","type":"quantitative","scale":{"domain":[-1,11],"range":[353,497],"nice":false,"zero":false},"axis":null},"text":{"field":"be","type":"nominal"}}},
{"mark":{"type":"text","align":"right"},"encoding":{"x":{"value":169},"y":{"field":"i","type":"quantitative","scale":{"domain":[-1,11],"range":[353,497],"nice":false,"zero":false},"axis":null},"text":{"field":"bt","type":"nominal"}}},
{"mark":{"type":"text","align":"right"},"encoding":{"x":{"value":199},"y":{"field":"i","type":"quantitative","scale":{"domain":[-1,11],"range":[353,497],"nice":false,"zero":false},"axis":null},"text":{"field":"pe","type":"nominal"}}},
{"mark":{"type":"text","align":"right"},"encoding":{"x":{"value":227},"y":{"field":"i","type":"quantitative","scale":{"domain":[-1,11],"range":[353,497],"nice":false,"zero":false},"axis":null},"text":{"field":"pt","type":"nominal"}}},
{"mark":{"type":"text","align":"right"},"encoding":{"x":{"value":270},"y":{"field":"i","type":"quantitative","scale":{"domain":[-1,11],"range":[353,497],"nice":false,"zero":false},"axis":null},"text":{"field":"w","type":"quantitative","format":".1%"}}},
{"mark":{"type":"text","align":"right"},"encoding":{"x":{"value":365},"y":{"field":"i","type":"quantitative","scale":{"domain":[-1,11],"range":[353,497],"nice":false,"zero":false},"axis":null},"text":{"field":"ci","type":"nominal"}}},
{"mark":{"type":"rule","color":"#111","strokeWidth":1},"encoding":{"x":{"field":"lo","type":"quantitative","scale":{"type":"log","domain":[0.01,100],"range":[374,573],"nice":false},"axis":null},"x2":{"field":"hi"},"y":{"field":"i","type":"quantitative","scale":{"domain":[-1,11],"range":[353,497],"nice":false,"zero":false},"axis":null}}},
{"mark":{"type":"point","shape":"square","filled":true,"color":"#2e3192","opacity":1},"encoding":{"x":{"field":"or","type":"quantitative","scale":{"type":"log","domain":[0.01,100],"range":[374,573],"nice":false},"axis":null},"y":{"field":"i","type":"quantitative","scale":{"domain":[-1,11],"range":[353,497],"nice":false,"zero":false},"axis":null},"size":{"field":"w","type":"quantitative","scale":{"domain":[0,0.5],"range":[0,55]},"legend":null}}}
]},
{"transform":[{"filter":"datum.kind === 'total'"}],"layer":[
{"mark":{"type":"text","align":"left","text":"Total (95% CI)","fontWeight":"bold","fontSize":9},"encoding":{"x":{"value":19},"y":{"datum":7,"type":"quantitative","scale":{"domain":[-1,11],"range":[353,497],"nice":false,"zero":false},"axis":null}}},
{"mark":{"type":"text","align":"right","fontWeight":"bold","fontSize":9},"encoding":{"x":{"value":169},"y":{"datum":7,"type":"quantitative","scale":{"domain":[-1,11],"range":[353,497],"nice":false,"zero":false},"axis":null},"text":{"field":"bt","type":"nominal"}}},
{"mark":{"type":"text","align":"right","fontWeight":"bold","fontSize":9},"encoding":{"x":{"value":227},"y":{"datum":7,"type":"quantitative","scale":{"domain":[-1,11],"range":[353,497],"nice":false,"zero":false},"axis":null},"text":{"field":"pt","type":"nominal"}}},
{"mark":{"type":"text","align":"right","fontWeight":"bold","fontSize":9},"encoding":{"x":{"value":270},"y":{"datum":7,"type":"quantitative","scale":{"domain":[-1,11],"range":[353,497],"nice":false,"zero":false},"axis":null},"text":{"field":"w","type":"quantitative","format":".1%"}}},
{"mark":{"type":"text","align":"right","fontWeight":"bold","fontSize":9},"encoding":{"x":{"value":365},"y":{"datum":7,"type":"quantitative","scale":{"domain":[-1,11],"range":[353,497],"nice":false,"zero":false},"axis":null},"text":{"field":"ci","type":"nominal"}}},
{"mark":{"type":"text","align":"left","text":"Total events"},"encoding":{"x":{"value":19},"y":{"datum":8,"type":"quantitative","scale":{"domain":[-1,11],"range":[353,497],"nice":false,"zero":false},"axis":null}}},
{"mark":{"type":"text","align":"right"},"encoding":{"x":{"value":151},"y":{"datum":8,"type":"quantitative","scale":{"domain":[-1,11],"range":[353,497],"nice":false,"zero":false},"axis":null},"text":{"field":"be","type":"nominal"}}},
{"mark":{"type":"text","align":"right"},"encoding":{"x":{"value":199},"y":{"datum":8,"type":"quantitative","scale":{"domain":[-1,11],"range":[353,497],"nice":false,"zero":false},"axis":null},"text":{"field":"pe","type":"nominal"}}},
{"mark":{"type":"text","align":"left"},"encoding":{"x":{"value":19},"y":{"datum":9,"type":"quantitative","scale":{"domain":[-1,11],"range":[353,497],"nice":false,"zero":false},"axis":null},"text":{"field":"het","type":"nominal"}}},
{"mark":{"type":"text","align":"left"},"encoding":{"x":{"value":19},"y":{"datum":10,"type":"quantitative","scale":{"domain":[-1,11],"range":[353,497],"nice":false,"zero":false},"axis":null},"text":{"field":"test","type":"nominal"}}},
{"mark":{"type":"point","shape":"M-1,0L0,-0.4L1,0L0,0.4Z","filled":true,"color":"#000","opacity":1},"encoding":{"x":{"field":"or","type":"quantitative","scale":{"type":"log","domain":[0.01,100],"range":[374,573],"nice":false},"axis":null},"y":{"datum":7,"type":"quantitative","scale":{"domain":[-1,11],"range":[353,497],"nice":false,"zero":false},"axis":null},"size":{"field":"lw","type":"quantitative","scale":{"type":"pow","exponent":2,"domain":[0,1],"range":[0,2500]},"legend":null}}}
]}
]
}
]
}
